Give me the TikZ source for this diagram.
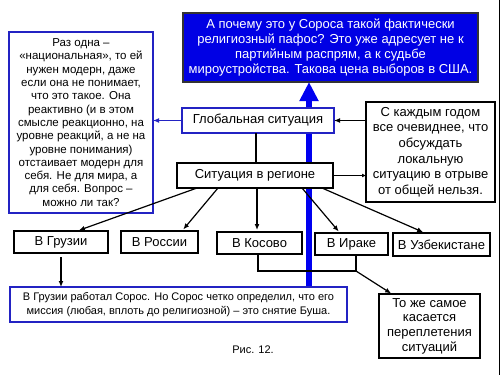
\documentclass[tikz,border=0pt]{standalone}
\usepackage{fontspec}
\setmainfont{Liberation Sans}
\usetikzlibrary{arrows.meta}
\definecolor{boxblue}{RGB}{35,35,195}
\definecolor{fillblue}{RGB}{0,0,228}
\definecolor{arrowblue}{RGB}{0,0,240}
\begin{document}
\begin{tikzpicture}[x=1pt,y=-1pt,
  base/.style={draw, fill=white, align=center, inner sep=1pt, outer sep=0pt,
    font=\fontsize{13}{15}\selectfont},
  blackbox/.style={base, line width=1.3pt},
  bluebox/.style={base, draw=boxblue, line width=2pt},
  conn/.style={line width=1.2pt, -{Latex[length=6pt,width=5pt]}},
  plain/.style={line width=1.2pt}]
\useasboundingbox (0,0) rectangle (500,375);
\fill[white] (0,0) rectangle (500,375);
\draw[line width=1pt] (499,0) -- (499,375);

% boxes
\node[base, fill=fillblue, draw=black!80, line width=1.2pt, text=white,
  minimum width=295pt, minimum height=69pt] (top) at (330.5,47.5)
  {А почему это у Сороса такой фактически\\религиозный пафос? Это уже адресует не к\\партийным распрям, а к судьбе\\мироустройства. Такова цена выборов в США.};

\node[base, fill=none, draw=none, minimum width=337pt, minimum height=35pt] (bottomph) at (178.5,304.5) {};

% thick blue arrow (behind boxes)
\draw[arrowblue, line width=6pt, -{Triangle[width=18pt,length=19pt]}]
  ([xshift=130.5pt]bottomph.north) -- ([xshift=-21.5pt]top.south);

\node[bluebox, font=\fontsize{11.5}{13.3}\selectfont,
  minimum width=144pt, minimum height=181pt] (left) at (81,122.5)
  {Раз одна –\\«национальная», то ей\\нужен модерн, даже\\если она не понимает,\\что это такое. Она\\реактивно (и в этом\\смысле реакционно, на\\уровне реакций, а не на\\уровне понимания)\\отстаивает модерн для\\себя. Не для мира, а\\для себя. Вопрос –\\можно ли так?};

\node[bluebox, minimum width=152pt, minimum height=25pt] (global) at (258,120.5) {Глобальная ситуация};

\node[blackbox, minimum width=129pt, minimum height=100pt, font=\fontsize{13}{15.6}\selectfont] (right) at (430.5,152)
  {С каждым годом\\все очевиднее, что\\обсуждать\\локальную\\ситуацию в отрыве\\от общей нельзя.};

\node[blackbox, minimum width=156pt, minimum height=25pt] (sit) at (255,175.5) {Ситуация в регионе};

\node[blackbox, minimum width=94pt, minimum height=22pt] (georgia) at (61,242) {В Грузии};
\node[blackbox, minimum width=77pt, minimum height=22pt] (russia) at (159.5,242) {В России};
\node[blackbox, minimum width=85pt, minimum height=22pt] (kosovo) at (259.5,243) {В Косово};
\node[blackbox, minimum width=73pt, minimum height=22pt] (irak) at (351.5,244) {В Ираке};
\node[blackbox, minimum width=97pt, minimum height=23pt] (uzbek) at (441.5,244.5) {В Узбекистане};

\node[bluebox, font=\fontsize{11}{14}\selectfont, minimum width=337pt, minimum height=35pt] (bottom) at (178.5,304.5)
  {В Грузии работал Сорос. Но Сорос четко определил, что его\\миссия (любая, вплоть до религиозной) -- это снятие Буша.};

\node[blackbox, minimum width=101pt, minimum height=64pt, font=\fontsize{13}{14.7}\selectfont] (same) at (429.5,326)
  {То же самое\\касается\\переплетения\\ситуаций};

\node[font=\fontsize{11}{13}\selectfont] (cap) at (253,350) {Рис. 12.};

% connectors
\draw[conn, boxblue] (global.west) -- (global.west -| left.east);
\draw[conn] (right.west |- global.east) -- (global.east);
\draw[plain] ([xshift=-2pt]global.south) -- ([xshift=1pt]sit.north);
\draw[conn, -{Latex[length=4pt,width=4pt]}] (sit.east) -- (sit.east -| right.west);

\draw[conn, shorten >=2pt] ([xshift=-58pt]sit.south) -- ([xshift=16pt]georgia.north);
\draw[conn, shorten >=2pt] ([xshift=-37pt]sit.south) -- ([xshift=22.5pt]russia.north);
\draw[conn, shorten >=2pt] ([xshift=2pt]sit.south) -- ([xshift=-2.5pt]kosovo.north);
\draw[conn, shorten >=2pt] ([xshift=47pt]sit.south) -- ([xshift=-11.5pt]irak.north);
\draw[conn, shorten >=2pt] ([xshift=67pt]sit.south) -- ([xshift=-16.5pt]uzbek.north);

\draw[conn, shorten <=4pt] (georgia.south) -- (georgia.south |- bottom.north);

\coordinate (join) at (356,271);
\draw[plain] ([xshift=-1.5pt]kosovo.south) |- (join) -- ([xshift=4.5pt]irak.south);
\draw[conn, shorten >=1pt] (join) -- ([xshift=-37.5pt]same.north);
\end{tikzpicture}
\end{document}
